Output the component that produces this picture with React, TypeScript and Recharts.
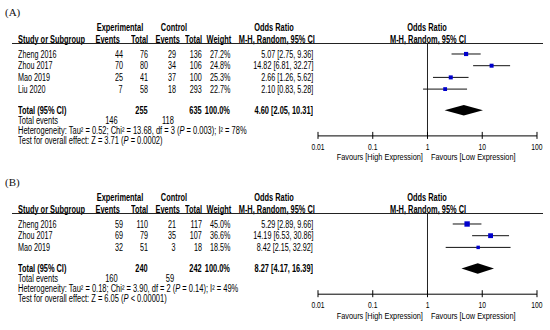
import React from 'react';
import { ComposedChart, Scatter, ErrorBar, XAxis, YAxis, ReferenceLine } from 'recharts';

// panel A
const studiesA = ['Zheng 2016', 'Zhou 2017', 'Mao 2019', 'Liu 2020'];
const expEventsA = [44, 70, 25, 7];
const expTotalA = [76, 80, 41, 58];
const ctrlEventsA = [29, 34, 37, 18];
const ctrlTotalA = [136, 106, 100, 293];
const weightA = [27.2, 24.8, 25.3, 22.7];
const orA = [5.07, 14.82, 2.66, 2.1];
const lowerA = [2.75, 6.81, 1.26, 0.83];
const upperA = [9.36, 32.27, 5.62, 5.28];
const pooledA = [4.6, 2.05, 10.31];
const totalsA = [255, 635];
const totalEventsA = [146, 118];
const hetA = ['0.52', '13.68', '3', '= 0.003', '78%'];
const overallA = ['3.71', '= 0.0002'];

// panel B
const studiesB = ['Zheng 2016', 'Zhou 2017', 'Mao 2019'];
const expEventsB = [59, 69, 32];
const expTotalB = [110, 79, 51];
const ctrlEventsB = [21, 35, 3];
const ctrlTotalB = [117, 107, 18];
const weightB = [45.0, 36.6, 18.5];
const orB = [5.29, 14.19, 8.42];
const lowerB = [2.89, 6.53, 2.15];
const upperB = [9.66, 30.86, 32.92];
const pooledB = [8.27, 4.17, 16.39];
const totalsB = [240, 242];
const totalEventsB = [160, 59];
const hetB = ['0.18', '3.90', '2', '= 0.14', '49%'];
const overallB = ['6.05', '< 0.00001'];

const xTicks = [0.01, 0.1, 1, 10, 100];

// no narrow font installed, so squeeze Liberation Sans horizontally
const FONT = "'Liberation Sans', Arial, sans-serif";
const W = 550;
const HEADER_Y = 43;
const ROW_H = 11.7;
const Y_MIN = 0.06;
const X_AXIS_H = 34;
const CHART_LEFT = 300;
const COL_RIGHT = [123, 148, 176, 202, 230, 313];

const Txt = ({ x, y, align = 'left', bold = false, size = 10, sq, children }: any) => {
  const k = sq ?? (bold ? 0.74 : 0.72);
  const style: any = {
    position: 'absolute',
    top: y - 4.4,
    lineHeight: '9px',
    fontSize: size,
    fontWeight: bold ? 'bold' : 'normal',
    whiteSpace: 'nowrap',
    fontFamily: FONT,
    color: '#000',
  };
  if (align === 'left') {
    style.left = x;
    style.transformOrigin = 'left center';
    style.transform = `scaleX(${k})`;
  } else if (align === 'right') {
    style.right = W - x;
    style.transformOrigin = 'right center';
    style.transform = `scaleX(${k})`;
  } else {
    style.left = x;
    style.transformOrigin = 'center center';
    style.transform = `translateX(-50%) scaleX(${k})`;
  }
  return <div style={style}>{children}</div>;
};

const AxisTick = (props: any) => {
  const { x, y, payload } = props;
  return (
    <g>
      <line x1={x} x2={x} y1={y - 4} y2={y + 3} stroke="#000" />
      <text
        x={0}
        y={0}
        transform={`translate(${x},${y + 14}) scale(0.75,1)`}
        textAnchor="middle"
        fontSize={9}
        fontFamily={FONT}
        fill="#000"
      >
        {String(payload.value)}
      </text>
    </g>
  );
};

function ForestPanel(p: any) {
  const n = p.studies.length;
  const yMax = n + 4.0;
  const plotH = (yMax - Y_MIN) * ROW_H;
  const chartH = HEADER_Y + plotH + X_AXIS_H;
  const ry = (v: number) => HEADER_Y + (v - Y_MIN) * ROW_H;
  const totalRow = n + 1.8;
  const axisY = HEADER_Y + plotH;

  const studyData = p.studies.map((s: string, i: number) => ({
    x: p.or[i],
    y: i + 1,
    w: p.weight[i],
    ci: [p.or[i] - p.lower[i], p.upper[i] - p.or[i]],
  }));
  const diamond = [
    { x: p.pooled[1], y: totalRow },
    { x: p.pooled[0], y: totalRow - 0.45 },
    { x: p.pooled[2], y: totalRow },
    { x: p.pooled[0], y: totalRow + 0.45 },
  ];

  return (
    <div style={{ position: 'absolute', left: 0, top: p.top, width: W, height: chartH + 10 }}>
      <div style={{ position: 'absolute', left: 5, top: 5, fontFamily: "'Liberation Serif', serif", fontSize: 11, lineHeight: '14px', color: '#111' }}>
        {p.label}
      </div>

      <Txt x={120} y={27} align="center" bold>Experimental</Txt>
      <Txt x={174} y={27} align="center" bold>Control</Txt>
      <Txt x={274} y={27} align="center" bold>Odds Ratio</Txt>
      <Txt x={427} y={27} align="center" bold>Odds Ratio</Txt>
      <Txt x={18} y={39.5} bold>Study or Subgroup</Txt>
      <Txt x={120} y={39.5} align="right" bold>Events</Txt>
      <Txt x={148} y={39.5} align="right" bold>Total</Txt>
      <Txt x={180} y={39.5} align="right" bold>Events</Txt>
      <Txt x={202} y={39.5} align="right" bold>Total</Txt>
      <Txt x={231} y={39.5} align="right" bold>Weight</Txt>
      <Txt x={315} y={39.5} align="right" bold>M-H, Random, 95% CI</Txt>
      <Txt x={428} y={39.5} align="center" bold>M-H, Random, 95% CI</Txt>
      <div style={{ position: 'absolute', left: 12, top: HEADER_Y, width: 531, height: 1, background: '#222' }} />

      {p.studies.map((s: string, i: number) => {
        const y = ry(i + 1);
        return (
          <React.Fragment key={s}>
            <Txt x={18} y={y}>{s}</Txt>
            <Txt x={COL_RIGHT[0]} y={y} align="right">{p.expEvents[i]}</Txt>
            <Txt x={COL_RIGHT[1]} y={y} align="right">{p.expTotal[i]}</Txt>
            <Txt x={COL_RIGHT[2]} y={y} align="right">{p.ctrlEvents[i]}</Txt>
            <Txt x={COL_RIGHT[3]} y={y} align="right">{p.ctrlTotal[i]}</Txt>
            <Txt x={COL_RIGHT[4]} y={y} align="right">{p.weight[i].toFixed(1)}%</Txt>
            <Txt x={COL_RIGHT[5]} y={y} align="right">
              {p.or[i].toFixed(2)} [{p.lower[i].toFixed(2)}, {p.upper[i].toFixed(2)}]
            </Txt>
          </React.Fragment>
        );
      })}

      <Txt x={18} y={ry(totalRow)} bold>Total (95% CI)</Txt>
      <Txt x={COL_RIGHT[1]} y={ry(totalRow)} align="right" bold>{p.totals[0]}</Txt>
      <Txt x={COL_RIGHT[3]} y={ry(totalRow)} align="right" bold>{p.totals[1]}</Txt>
      <Txt x={COL_RIGHT[4]} y={ry(totalRow)} align="right" bold>100.0%</Txt>
      <Txt x={COL_RIGHT[5]} y={ry(totalRow)} align="right" bold>
        {p.pooled[0].toFixed(2)} [{p.pooled[1].toFixed(2)}, {p.pooled[2].toFixed(2)}]
      </Txt>
      <Txt x={18} y={ry(n + 2.65)} sq={0.75}>Total events</Txt>
      <Txt x={118} y={ry(n + 2.65)} align="right" sq={0.75}>{p.totalEvents[0]}</Txt>
      <Txt x={174} y={ry(n + 2.65)} align="right" sq={0.75}>{p.totalEvents[1]}</Txt>
      <Txt x={18} y={ry(n + 3.5)} sq={0.75}>
        Heterogeneity: Tau² = {p.het[0]}; Chi² = {p.het[1]}, df = {p.het[2]} (<i>P</i> {p.het[3]}); I² = {p.het[4]}
      </Txt>
      <Txt x={18} y={ry(n + 4.35)} sq={0.75}>
        Test for overall effect: Z = {p.overall[0]} (<i>P</i> {p.overall[1]})
      </Txt>

      <Txt x={423} y={axisY + 21} align="right" size={9.8} sq={0.75}>Favours [High Expression]</Txt>
      <Txt x={431} y={axisY + 21} size={9.8} sq={0.75}>Favours [Low Expression]</Txt>

      <div style={{ position: 'absolute', left: CHART_LEFT, top: 0 }}>
        <ComposedChart
          width={W - CHART_LEFT}
          height={chartH}
          margin={{ top: HEADER_Y, right: 13, bottom: 0, left: 18 }}
        >
          <XAxis
            type="number"
            dataKey="x"
            scale="log"
            domain={[0.01, 100]}
            ticks={xTicks}
            interval={0}
            allowDataOverflow
            height={X_AXIS_H}
            tickSize={0}
            tickMargin={0}
            tickLine={false}
            tick={<AxisTick />}
            axisLine={{ stroke: '#000' }}
          />
          <YAxis type="number" dataKey="y" domain={[Y_MIN, yMax]} reversed hide allowDataOverflow />
          <ReferenceLine x={1} stroke="#222" strokeWidth={1} />
          <Scatter
            data={studyData}
            isAnimationActive={false}
            shape={(s: any) => {
              const size = 0.8 * Math.sqrt(s.payload.w);
              return <rect x={s.cx - size / 2} y={s.cy - size / 2} width={size} height={size} fill="#0000cc" />;
            }}
          >
            <ErrorBar dataKey="ci" direction="x" width={0} stroke="#111" strokeWidth={1} isAnimationActive={false} />
          </Scatter>
          <Scatter
            data={diamond}
            isAnimationActive={false}
            shape={() => <g />}
            line={(lp: any) => (
              <polygon points={lp.points.map((pt: any) => `${pt.x},${pt.y}`).join(' ')} fill="#000" stroke="none" />
            )}
          />
        </ComposedChart>
      </div>
    </div>
  );
}

export default function App() {
  return (
    <div style={{ position: 'relative', width: W, height: 330, overflow: 'hidden', background: '#fff' }}>
      <style>{'body{margin:0}'}</style>
      <ForestPanel
        top={0}
        label="(A)"
        studies={studiesA}
        expEvents={expEventsA}
        expTotal={expTotalA}
        ctrlEvents={ctrlEventsA}
        ctrlTotal={ctrlTotalA}
        weight={weightA}
        or={orA}
        lower={lowerA}
        upper={upperA}
        pooled={pooledA}
        totals={totalsA}
        totalEvents={totalEventsA}
        het={hetA}
        overall={overallA}
      />
      <ForestPanel
        top={170}
        label="(B)"
        studies={studiesB}
        expEvents={expEventsB}
        expTotal={expTotalB}
        ctrlEvents={ctrlEventsB}
        ctrlTotal={ctrlTotalB}
        weight={weightB}
        or={orB}
        lower={lowerB}
        upper={upperB}
        pooled={pooledB}
        totals={totalsB}
        totalEvents={totalEventsB}
        het={hetB}
        overall={overallB}
      />
    </div>
  );
}
